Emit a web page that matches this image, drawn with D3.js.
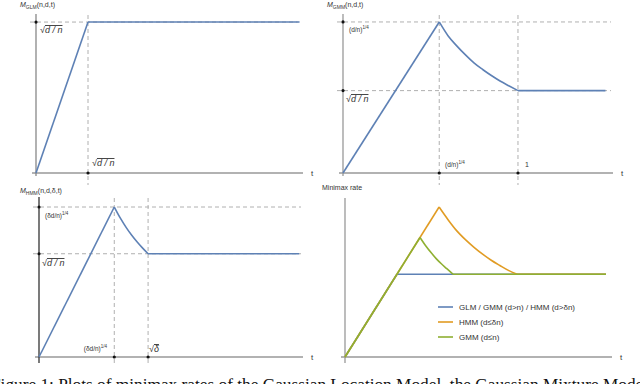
<!DOCTYPE html>
<html lang="en">
<head>
<meta charset="UTF-8">
<script src="https://cdn.jsdelivr.net/npm/d3@7"></script>
<title>Minimax rates</title>
<style>
  body { margin: 0; background: #fff; }
  svg text { font-family: "Liberation Sans", Arial, sans-serif; fill: #333; }
  .caption { font-family: "Liberation Serif", "Times New Roman", serif; fill: #111; }
</style>
</head>
<body>
<script>
// GLM panel (t, rate)
let glmT = [0, 0.3, 1.52];
let glmRate = [0, 0.3, 0.3];

// GMM panel: rises to (d/n)^1/4, decays to sqrt(d/n) at t=1
let gmmT = [0, 0.55, 0.6, 0.65, 0.7, 0.75, 0.8, 0.85, 0.9, 0.95, 1.0, 1.5];
let gmmRate = [0, 0.55, 0.50, 0.463, 0.43, 0.40, 0.376, 0.354, 0.334, 0.317, 0.30, 0.30];

// HMM panel: rises to (delta d/n)^1/4, decays to sqrt(d/n) at sqrt(delta)
let hmmT = [0, 0.69, 0.75, 0.8, 0.85, 0.9, 0.95, 1.0, 2.385];
let hmmRate = [0, 0.69, 0.635, 0.595, 0.56, 0.529, 0.501, 0.475, 0.475];

// comparison panel
let blueT = [0, 0.302, 1.517];
let blueRate = [0, 0.302, 0.302];
let orangeT = [0, 0.547, 0.6, 0.65, 0.7, 0.75, 0.8, 0.85, 0.9, 0.95, 1.0, 1.517];
let orangeRate = [0, 0.547, 0.50, 0.46, 0.428, 0.40, 0.375, 0.353, 0.334, 0.316, 0.302, 0.302];
let greenT = [0, 0.436, 0.47, 0.5, 0.53, 0.56, 0.59, 0.628, 1.517];
let greenRate = [0, 0.436, 0.405, 0.381, 0.359, 0.34, 0.323, 0.302, 0.302];

let legendLabels = ["GLM / GMM (d>n) / HMM (d>δn)", "HMM (d≤δn)", "GMM (d≤n)"];
let colors = ["#5E81B5", "#E19C24", "#8FB032"];

let svg = d3.select("body").append("svg")
  .attr("width", 640).attr("height", 384);

let straight = d3.line().x(d => d.x).y(d => d.y);
let smooth = d3.line().x(d => d.x).y(d => d.y).curve(d3.curveMonotoneX);

function zip(ts, rs, x, y) {
  return ts.map((t, i) => ({ x: x(t), y: y(rs[i]) }));
}

// rise (straight), decay (smooth), plateau (straight)
function drawRate(ts, rs, x, y, color) {
  let pts = zip(ts, rs, x, y);
  let n = pts.length;
  let g = svg.append("g").attr("fill", "none").attr("stroke", color)
    .attr("stroke-width", 1.6).attr("stroke-linejoin", "round");
  g.append("path").attr("d", straight(pts.slice(0, 2)));
  if (n > 3) g.append("path").attr("d", smooth(pts.slice(1, n - 1)));
  g.append("path").attr("d", straight(pts.slice(n - 2)));
}

function axes(x, y, tMax, yMax, below, yAxisColor) {
  svg.append("line")
    .attr("x1", x(0) - 4).attr("x2", x(tMax))
    .attr("y1", y(0)).attr("y2", y(0))
    .attr("stroke", "#999").attr("stroke-width", 1.3);
  svg.append("line")
    .attr("x1", x(0)).attr("x2", x(0))
    .attr("y1", y(yMax)).attr("y2", y(0) + below)
    .attr("stroke", yAxisColor || "#999").attr("stroke-width", 1.3);
  svg.append("text").attr("x", x(tMax) + 8).attr("y", y(0) + 3)
    .attr("font-size", 8).text("t");
}

function hDash(x, y, v, tMax) {
  svg.append("line")
    .attr("x1", x(0) - 6).attr("x2", x(tMax) - 2)
    .attr("y1", y(v)).attr("y2", y(v))
    .attr("stroke", "#b0b0b0").attr("stroke-dasharray", "4,3");
}
function vDash(x, y, t, yMax, below) {
  svg.append("line")
    .attr("x1", x(t)).attr("x2", x(t))
    .attr("y1", y(yMax) + 1).attr("y2", y(0) + below)
    .attr("stroke", "#b0b0b0").attr("stroke-dasharray", "4,3");
}
function dot(cx, cy) {
  svg.append("circle").attr("cx", cx).attr("cy", cy).attr("r", 1.6).attr("fill", "#111");
}

function sqrtLabel(px, py, inner) {
  let t = svg.append("text").attr("x", px).attr("y", py).attr("font-size", 9);
  t.append("tspan").text("√");
  t.append("tspan").attr("font-style", "italic")
    .style("text-decoration", "overline").text(inner);
}
function powLabel(px, py, base, anchor) {
  let t = svg.append("text").attr("x", px).attr("y", py).attr("font-size", 6.5)
    .attr("text-anchor", anchor || "start");
  t.append("tspan").text(base);
  t.append("tspan").attr("dy", -3).attr("font-size", 4.5).text("1/4");
}
function title(px, py, sub, args) {
  let t = svg.append("text").attr("x", px).attr("y", py).attr("font-size", 7);
  t.append("tspan").attr("font-style", "italic").text("M");
  t.append("tspan").attr("dy", 1.5).attr("font-size", 5).text(sub);
  t.append("tspan").attr("dy", -1.5).text(args);
}

// ---- panel 1: GLM
let x1 = d3.scaleLinear().domain([0, 1.54]).range([36, 303]);
let y1 = d3.scaleLinear().domain([0, 0.316]).range([173, 14]);
hDash(x1, y1, glmRate[1], 1.52);
vDash(x1, y1, glmT[1], 0.316, 12);
axes(x1, y1, 1.54, 0.316, 3, "#888");
drawRate(glmT, glmRate, x1, y1, colors[0]);
dot(x1(0), y1(glmRate[1]));
dot(x1(glmT[1]), y1(0));
sqrtLabel(40, 33, "d / n");
sqrtLabel(92, 166, "d / n");
title(20, 7, "GLM", "(n,d,t)");

// ---- panel 2: GMM
let x2 = d3.scaleLinear().domain([0, 1.543]).range([343, 613]);
let y2 = d3.scaleLinear().domain([0, 0.579]).range([173, 14]);
hDash(x2, y2, 0.55, 1.543);
hDash(x2, y2, 0.30, 1.543);
vDash(x2, y2, 0.55, 0.579, 12);
vDash(x2, y2, 1.0, 0.579, 12);
axes(x2, y2, 1.543, 0.579, 3);
drawRate(gmmT, gmmRate, x2, y2, colors[0]);
dot(x2(0), y2(0.55)); dot(x2(0), y2(0.30));
dot(x2(0.55), y2(0)); dot(x2(1), y2(0));
powLabel(349, 32, "(d/n)");
sqrtLabel(346, 102, "d / n");
powLabel(445, 167, "(d/n)");
svg.append("text").attr("x", 525).attr("y", 167).attr("font-size", 7).text("1");
title(327, 7, "GMM", "(n,d,t)");

// ---- panel 3: HMM
let x3 = d3.scaleLinear().domain([0, 2.42]).range([39, 303]);
let y3 = d3.scaleLinear().domain([0, 0.736]).range([357, 197]);
hDash(x3, y3, 0.69, 2.42);
hDash(x3, y3, 0.475, 2.42);
vDash(x3, y3, 0.69, 0.736, 6);
vDash(x3, y3, 1.0, 0.736, 6);
axes(x3, y3, 2.42, 0.736, 6, "#333");
drawRate(hmmT, hmmRate, x3, y3, colors[0]);
dot(x3(0), y3(0.69)); dot(x3(0), y3(0.475));
dot(x3(0.69), y3(0)); dot(x3(1), y3(0));
powLabel(45, 218, "(δd/n)");
sqrtLabel(42, 266, "d / n");
powLabel(107, 351, "(δd/n)", "end");
let sd = svg.append("text").attr("x", 149).attr("y", 352).attr("font-size", 9);
sd.append("tspan").text("√");
sd.append("tspan").attr("font-style", "italic").style("text-decoration", "overline").text("δ");
title(20, 193, "HMM", "(n,d,δ,t)");

// ---- panel 4: comparison
let x4 = d3.scaleLinear().domain([0, 1.552]).range([345, 612]);
let y4 = d3.scaleLinear().domain([0, 0.58]).range([357, 198]);
axes(x4, y4, 1.552, 0.58, 6);
drawRate(blueT, blueRate, x4, y4, colors[0]);
drawRate(orangeT, orangeRate, x4, y4, colors[1]);
drawRate(greenT, greenRate, x4, y4, colors[2]);
svg.append("text").attr("x", 322).attr("y", 190).attr("font-size", 7).text("Minimax rate");

let legend = svg.append("g").attr("transform", "translate(438,307)");
legendLabels.forEach((lab, i) => {
  legend.append("line").attr("x1", 0).attr("x2", 15)
    .attr("y1", i * 15).attr("y2", i * 15)
    .attr("stroke", colors[i]).attr("stroke-width", 1.6);
  legend.append("text").attr("x", 21).attr("y", i * 15 + 3)
    .attr("font-size", 8).text(lab);
});

// caption, cut off by the bottom edge as in the source figure
svg.append("text").attr("class", "caption")
  .attr("x", -9).attr("y", 390).attr("font-size", 17.3)
  .text("Figure 1: Plots of minimax rates of the Gaussian Location Model, the Gaussian Mixture Model, and the Hidden");
</script>
</body>
</html>
